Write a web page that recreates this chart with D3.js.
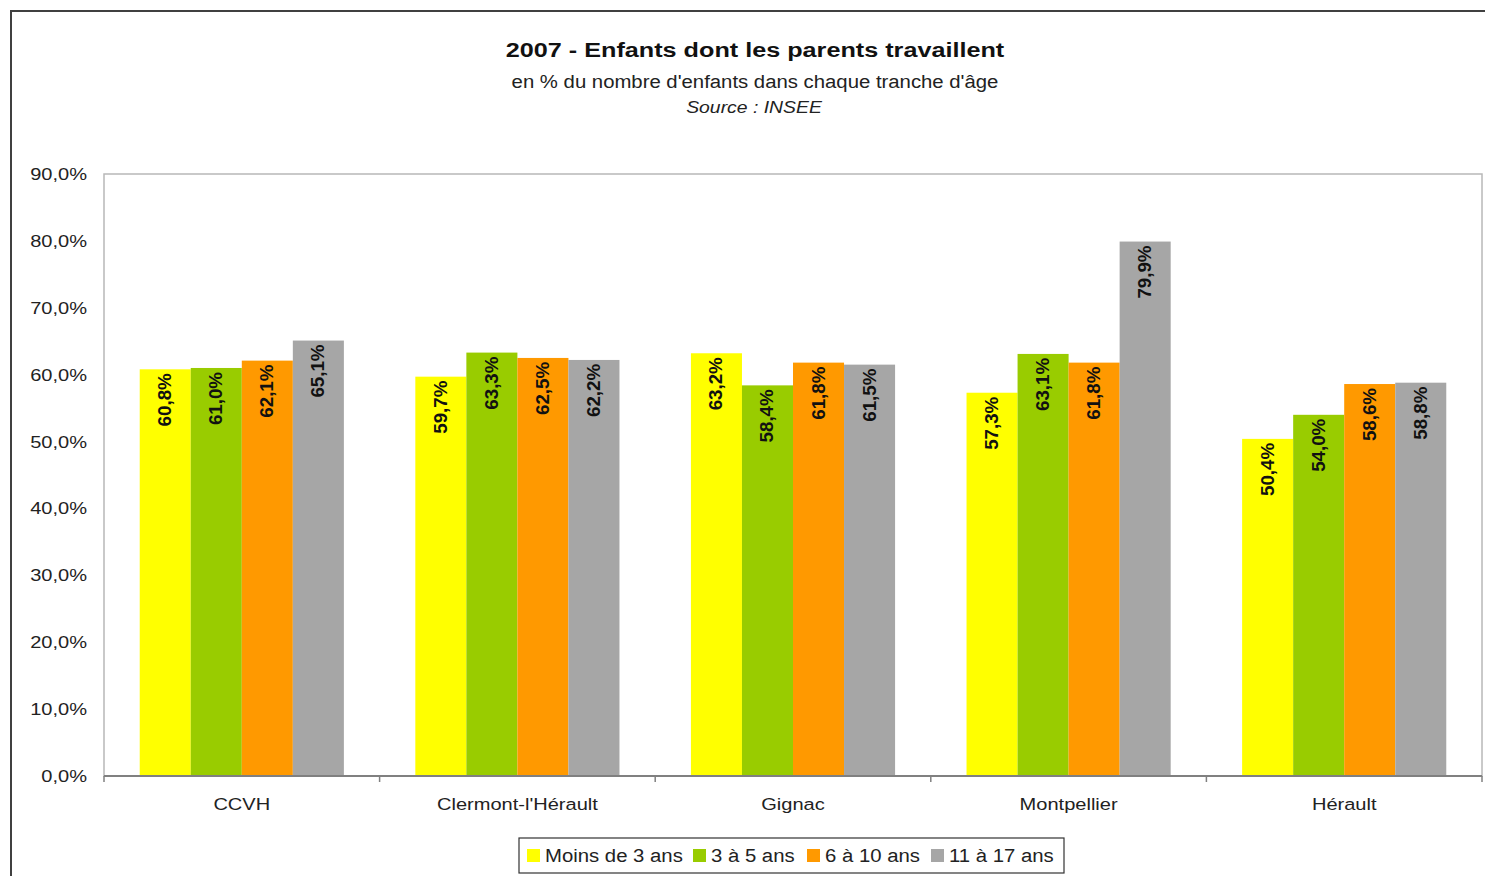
<!DOCTYPE html>
<html><head><meta charset="utf-8">
<script src="https://cdn.jsdelivr.net/npm/d3@7/dist/d3.min.js"></script>
<style>body{margin:0;background:#fff}svg{display:block}text{font-family:"Liberation Sans",Arial,sans-serif}</style>
</head><body><svg id="c" width="1485" height="876"></svg>
<script>
const categories = ["CCVH", "Clermont-l'Hérault", "Gignac", "Montpellier", "Hérault"];
const seriesNames = ["Moins de 3 ans", "3 à 5 ans", "6 à 10 ans", "11 à 17 ans"];
const moins3 = [60.8, 59.7, 63.2, 57.3, 50.4];
const de3a5 = [61.0, 63.3, 58.4, 63.1, 54.0];
const de6a10 = [62.1, 62.5, 61.8, 61.8, 58.6];
const de11a17 = [65.1, 62.2, 61.5, 79.9, 58.8];
const yTicks = [0, 10, 20, 30, 40, 50, 60, 70, 80, 90];
const colors = ["#ffff00", "#99cc00", "#ff9900", "#a6a6a6"];
const seriesValues = [moins3, de3a5, de6a10, de11a17];

const svg = d3.select("#c");
const L = 104, R = 1482, T = 174, B = 776;
const fmt = v => v.toFixed(1).replace(".", ",") + "%";

// outer frame
svg.append("rect").attr("x", 11).attr("y", 11).attr("width", 1600).attr("height", 1000)
  .attr("fill", "none").attr("stroke", "#404040").attr("stroke-width", 2);

function hText(x, y, str, opts) {
  const t = svg.append("text")
    .attr("transform", `translate(${x},${y}) scale(${opts.sx},1)`)
    .attr("text-anchor", opts.anchor || "middle")
    .attr("font-size", opts.size)
    .attr("fill", opts.fill || "#000")
    .text(str);
  if (opts.bold) t.attr("font-weight", "bold");
  if (opts.italic) t.attr("font-style", "italic");
  return t;
}
hText(755, 57, "2007 - Enfants dont les parents travaillent", {size: 21, bold: true, sx: 1.2, fill: "#111"});
hText(755, 88, "en % du nombre d'enfants dans chaque tranche d'âge", {size: 18, sx: 1.13, fill: "#222"});
hText(754, 113, "Source : INSEE", {size: 17, italic: true, sx: 1.14, fill: "#222"});

const y = d3.scaleLinear().domain([0, 90]).range([B, T]);
const x0 = d3.scaleBand().domain(categories).range([L, R]).paddingInner(0).paddingOuter(0);
const x1 = d3.scaleBand().domain(d3.range(seriesNames.length)).range([0, x0.bandwidth()]).paddingOuter(0.7).paddingInner(0);

// plot area border
svg.append("rect").attr("x", L).attr("y", T).attr("width", R - L).attr("height", B - T)
  .attr("fill", "#fff").attr("stroke", "#b8b8b8").attr("stroke-width", 1.5);

// bars + labels
const g = svg.append("g");
categories.forEach((c, ci) => {
  seriesValues.forEach((vals, si) => {
    const v = vals[ci];
    const bx = x0(c) + x1(si);
    g.append("rect").attr("x", bx).attr("y", y(v)).attr("width", x1.bandwidth()).attr("height", B - y(v))
      .attr("fill", colors[si]);
    g.append("text")
      .attr("transform", `translate(${bx + x1.bandwidth() / 2 + 6},${y(v) + 4}) rotate(-90) scale(1.07,1)`)
      .attr("text-anchor", "end")
      .attr("font-size", 17.5).attr("font-weight", "bold").attr("fill", "#111")
      .text(fmt(v));
  });
});

// y axis labels
yTicks.forEach(t => {
  hText(87, y(t) + 6, fmt(t), {size: 17, anchor: "end", sx: 1.18, fill: "#222"});
});

// x axis
svg.append("line").attr("x1", L).attr("x2", R).attr("y1", B).attr("y2", B)
  .attr("stroke", "#808080").attr("stroke-width", 2);
const bounds = categories.map(c => x0(c)).concat([R]);
bounds.forEach(b => svg.append("line").attr("x1", b).attr("x2", b).attr("y1", B).attr("y2", B + 6)
  .attr("stroke", "#808080").attr("stroke-width", 1.5));
categories.forEach(c => hText(x0(c) + x0.bandwidth() / 2, 810, c, {size: 17, sx: 1.18, fill: "#222"}));

// legend
svg.append("rect").attr("x", 519).attr("y", 838).attr("width", 545).attr("height", 35)
  .attr("fill", "#fff").attr("stroke", "#333").attr("stroke-width", 1.2);
const legX = [527, 693, 807, 931];
seriesNames.forEach((n, i) => {
  svg.append("rect").attr("x", legX[i]).attr("y", 849).attr("width", 13).attr("height", 13).attr("fill", colors[i]);
  hText(legX[i] + 18, 862, n, {size: 18, anchor: "start", sx: 1.13, fill: "#222"});
});
</script></body></html>
